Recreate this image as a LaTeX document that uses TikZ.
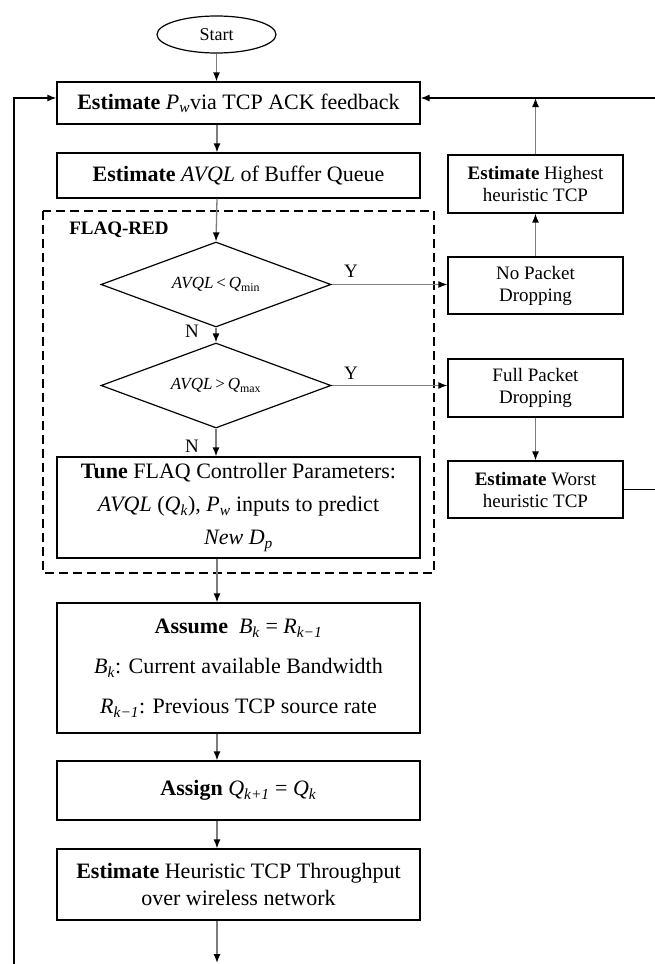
\documentclass[tikz,border=0pt]{standalone}
\usepackage{fontspec}
\setmainfont{Liberation Serif}
\usetikzlibrary{shapes.geometric,arrows.meta}
\newcommand{\vv}[2]{\textit{#1}\textsubscript{\textit{#2}}}
\definecolor{lgray}{RGB}{125,125,125}
\begin{document}
\begin{tikzpicture}[x=1pt,y=-1pt,
  box/.style={draw=black,line width=1.2pt,rectangle,inner sep=2pt,align=center,
    minimum width=363pt,font=\fontsize{22}{27}\selectfont},
  sbox/.style={draw=black,line width=1.2pt,rectangle,inner sep=2pt,align=center,
    minimum width=175pt,font=\fontsize{19}{22}\selectfont},
  dia/.style={diamond,draw=black,line width=1.2pt,minimum width=230pt,minimum height=85pt,
    aspect=2.7,inner sep=0pt,font=\fontsize{17}{20}\selectfont},
  lab/.style={font=\fontsize{19}{22}\selectfont,inner sep=0pt},
  arr/.style={draw=lgray,line width=1.3pt,-{Latex[length=9pt,width=7pt,color=black]}},
  arrK/.style={draw=black,line width=1.3pt,-{Latex[length=9pt,width=7pt,color=black]}},
  dashbox/.style={draw=black,line width=1.3pt,dash pattern=on 9pt off 5pt}]
\useasboundingbox (0,0) rectangle (654,964);

\draw[dashbox] (43,211) rectangle (434,573);

\node[ellipse,draw=black,line width=1.2pt,minimum width=119pt,minimum height=37pt,inner sep=0pt,
  font=\fontsize{18}{20}\selectfont] (start) at (216.5,34.5) {Start};
\node[box,minimum height=42pt] (box1) at (238.5,103) {\textbf{Estimate} \vv{P}{w}via TCP ACK feedback};
\node[box,minimum height=45pt] (box2) at (238.5,175.5) {\textbf{Estimate} \textit{AVQL} of Buffer Queue};
\node[lab,font=\fontsize{19}{22}\selectfont\bfseries] (flaq) at (119,230) {FLAQ-RED};
\node[dia] (d1) at (216,284.5) {\textit{AVQL}\,<\,\textit{Q}\textsubscript{min}};
\node[dia] (d2) at (216,385.5) {\textit{AVQL}\,>\,\textit{Q}\textsubscript{max}};
\node[box,minimum height=101pt,font=\fontsize{22}{33}\selectfont] (tune) at (238.5,507.5)
  {\textbf{Tune} FLAQ Controller Parameters:\\ \textit{AVQL} (\vv{Q}{k}), \vv{P}{w} inputs to predict\\ \textit{New D}\textsubscript{\textit{p}}};
\node[box,minimum height=130pt,font=\fontsize{22}{40}\selectfont] (assume) at (238.5,668)
  {\textbf{Assume}\ \ \vv{B}{k} = \vv{R}{k−1}\\ \vv{B}{k}: Current available Bandwidth\\ \vv{R}{k−1}: Previous TCP source rate};
\node[box,minimum height=59pt] (assign) at (238.5,790.5) {\textbf{Assign} \vv{Q}{k+1} = \vv{Q}{k}};
\node[box,minimum height=71pt] (heur) at (238.5,884.5) {\textbf{Estimate} Heuristic TCP Throughput\\over wireless network};

\node[sbox,minimum height=58pt] (highest) at (535.5,184) {\textbf{Estimate} Highest\\heuristic TCP};
\node[sbox,minimum height=57pt] (nopkt) at (535.5,285.5) {No Packet\\Dropping};
\node[sbox,minimum height=58pt] (fullpkt) at (535.5,388) {Full Packet\\Dropping};
\node[sbox,minimum height=57pt] (worst) at (535.5,489.5) {\textbf{Estimate} Worst\\heuristic TCP};

\node[lab] (y1) at (351,271) {Y};
\node[lab] (y2) at (351,373) {Y};
\node[lab] (n1) at (192,331) {N};
\node[lab] (n2) at (192,446) {N};

\coordinate (col) at (217,0);
\coordinate (fb) at (0,98);
\coordinate (loopL) at (14,972);
\coordinate (loopR) at (662,0);
\coordinate (endpt) at (217,963);

\draw[arr] (start.south) -- (start.south |- box1.north);
\draw[arr] (box1.south -| col) -- (box2.north -| col);
\draw[arr] (box2.south -| col) -- (d1.north);
\draw[arr] (d1.south) -- (d2.north);
\draw[arr] (d2.south) -- (d2.south |- tune.north);
\draw[arr] (tune.south -| col) -- (assume.north -| col);
\draw[arr] (assume.south -| col) -- (assign.north -| col);
\draw[arr] (assign.south -| col) -- (heur.north -| col);
\draw[arr] (heur.south -| col) -- (endpt);

\draw[arr] (d1.east) -- (d1.east -| nopkt.west);
\draw[arr] (d2.east) -- (d2.east -| fullpkt.west);
\draw[arr] (nopkt.north) -- (highest.south);
\draw[arr] (highest.north) -- (highest.north |- fb);
\draw[arr] (fullpkt.south) -- (worst.north);

\draw[arrK] (worst.east) -- (worst.east -| loopR) -- (loopR |- fb) -- (fb -| box1.east);
\draw[arrK] (loopL) -- (loopL |- fb) -- (fb -| box1.west);
\end{tikzpicture}
\end{document}
